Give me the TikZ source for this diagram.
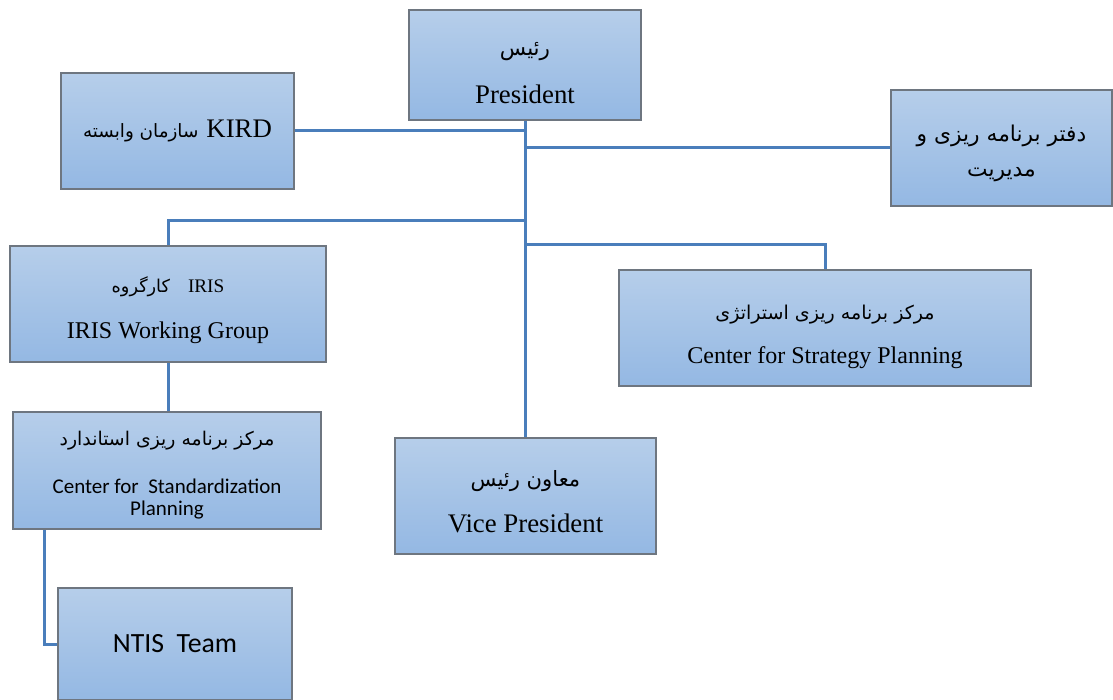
\documentclass[tikz,border=0pt]{standalone}
\usepackage{fontspec}
\setmainfont{Liberation Serif}
\newfontfamily\calib{Carlito}
\newfontfamily\farsi[Script=Arabic,Scale=0.85]{DejaVu Sans}
\TeXXeTstate=1
\definecolor{boxtop}{HTML}{B6CEEA}
\definecolor{boxbot}{HTML}{94B8E3}
\definecolor{boxline}{HTML}{6E7680}
\definecolor{linkblue}{HTML}{4A7EBB}
\usepackage{tikz}
\usetikzlibrary{positioning, calc}
\newcommand{\padtop}[1]{\rule{0pt}{#1}}

\begin{document}
\begin{tikzpicture}[x=0.5pt, y=-0.5pt,
  unit/.style={rectangle, draw=boxline, line width=1pt, top color=boxtop, bottom color=boxbot,
               align=center, inner sep=2pt, font=\fontsize{13.4}{23}\selectfont},
  link/.style={draw=linkblue, line width=1.5pt}
]
  \useasboundingbox (0,0) rectangle (1113,700);

  % boxes
  \node[unit, minimum width=116pt, minimum height=55pt, font=\fontsize{13.4}{24}\selectfont] (pres) at (525,65)
    {\padtop{15pt}{\farsi\fontsize{12.6}{24}\selectfont\beginR رئیس\endR}\\President};
  \node[unit, minimum width=116.5pt, minimum height=58pt] (kird) at (177.5,131)
    {{\farsi\fontsize{10.8}{23}\selectfont\beginR سازمان وابسته\endR}\hspace{4pt}KIRD};
  \node[unit, minimum width=110.5pt, minimum height=58pt, font=\fontsize{12.8}{17.5}\selectfont] (plan) at (1001.5,148)
    {\padtop{14pt}{\farsi\beginR دفتر برنامه ریزی و\endR}\\{\farsi\beginR مدیریت\endR}};
  \node[unit, minimum width=158pt, minimum height=58pt, font=\fontsize{12}{23}\selectfont] (iris) at (168,304)
    {\padtop{14pt}{\farsi\fontsize{10.4}{23}\selectfont\beginR کارگروه\endR}\hspace{9pt}{\fontsize{9.6}{23}\selectfont IRIS}\\IRIS Working Group};
  \node[unit, minimum width=206pt, minimum height=58pt, font=\fontsize{12}{22}\selectfont] (strat) at (825,328)
    {\padtop{16pt}{\farsi\fontsize{11.2}{22}\selectfont\beginR مرکز برنامه ریزی استراتژی\endR}\\Center for Strategy Planning};
  \node[unit, minimum width=154pt, minimum height=58.5pt, font=\calib\fontsize{10.5}{11}\selectfont] (stdz) at (167,470.5)
    {\padtop{12pt}{\farsi\fontsize{11.1}{11}\selectfont\beginR مرکز برنامه ریزی استاندارد\endR}\\[13pt]Center for\ \ Standardization\\Planning};
  \node[unit, minimum width=130.5pt, minimum height=58pt] (vp) at (525.5,496)
    {\padtop{14pt}{\farsi\fontsize{12.4}{23}\selectfont\beginR معاون رئیس\endR}\\Vice President};
  \node[unit, minimum width=117pt, minimum height=56pt, font=\calib\fontsize{13.9}{16}\selectfont] (ntis) at (175,644)
    {NTIS\ \ Team};

  % joints on the trunk
  \coordinate (jiris) at (525,221);
  \coordinate (jstrat) at (525,245);

  % connectors
  \draw[link] (pres.south) -- (pres.south |- vp.north);
  \draw[link] (kird.east) -- (kird.east -| pres.south);
  \draw[link] (pres.south |- plan.west) -- (plan.west);
  \draw[link] (jiris) -| (iris.north);
  \draw[link] (jstrat) -| (strat.north);
  \draw[link] (iris.south) -- (iris.south |- stdz.north);
  \draw[link] ([xshift=16pt]stdz.south west) |- (ntis.west);
\end{tikzpicture}
\end{document}
